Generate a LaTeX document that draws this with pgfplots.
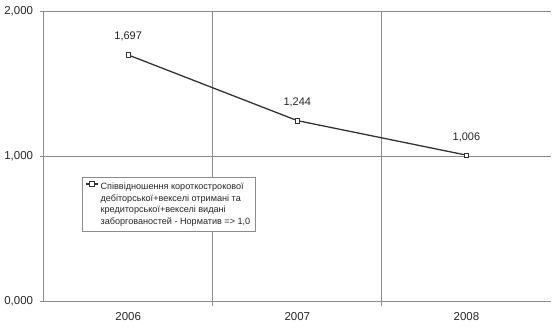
\documentclass[border=0pt]{standalone}
\usepackage{pgfplots}
\pgfplotsset{compat=1.18}
\usepackage{fontspec}
\setmainfont{Liberation Sans}
\begin{document}
\begin{tikzpicture}
\begin{axis}[
  name=ax,
  scale only axis,
  width=507.4pt, height=290pt,
  xmin=0.5, xmax=3.5, ymin=0, ymax=2,
  axis x line*=bottom, axis y line*=left,
  axis line style={color=gray!90, line width=0.8pt, -},
  xtick={1,2,3}, xticklabels={2006,2007,2008},
  major x tick style={draw=none},
  minor xtick={1.5,2.5},
  minor x tick style={draw=gray!90, line width=0.8pt},
  xminorgrids,
  ytick={0,1,2}, yticklabels={{0,000},{1,000},{2,000}},
  ymajorgrids,
  grid style={color=gray!90, line width=0.8pt},
  y tick style={draw=gray!90, line width=0.8pt},
  tick align=outside,
  major tick length=4pt, minor tick length=5pt,
  tick label style={font=\fontsize{11.5}{13}\selectfont, text=black!85},
  yticklabel style={xshift=-3pt},
  xticklabel style={yshift=-4pt},
  legend style={at={(rel axis cs:0.0757,0.427)}, anchor=north west,
    draw=gray!90, line width=0.6pt, font=\fontsize{9.1}{11.8}\selectfont,
    inner sep=3pt, text=black!85, cells={anchor=north west, align=left}},
  legend image code/.code={\draw[#1, mark repeat=2, mark phase=2, yshift=-3.6pt]
     plot coordinates {(0pt,0pt) (6pt,0pt) (12pt,0pt)};},
  /pgf/number format/assume math mode=true,
  clip=false,
]
\addplot[black!80, line width=1.3pt, mark=square*, mark size=2.3pt,
  mark options={fill=white, draw=black!80, line width=0.6pt},
  nodes near coords={\pgfmathprintnumber[fixed,precision=3,fixed zerofill,use comma]{\pgfplotspointmeta}},
  every node near coord/.append style={font=\fontsize{11}{13}\selectfont, text=black!85, anchor=south, yshift=10pt}
] coordinates {(1,1.697) (2,1.244) (3,1.006)};
\addlegendentry{Співвідношення короткострокової\\дебіторської+векселі отримані та\\кредиторської+векселі видані\\заборгованостей - Норматив => 1,0}
\end{axis}
\pgfresetboundingbox
\path ([xshift=-43.6pt,yshift=-28pt]ax.south west) rectangle ([xshift=2pt,yshift=11pt]ax.north east);
\end{tikzpicture}
\end{document}
